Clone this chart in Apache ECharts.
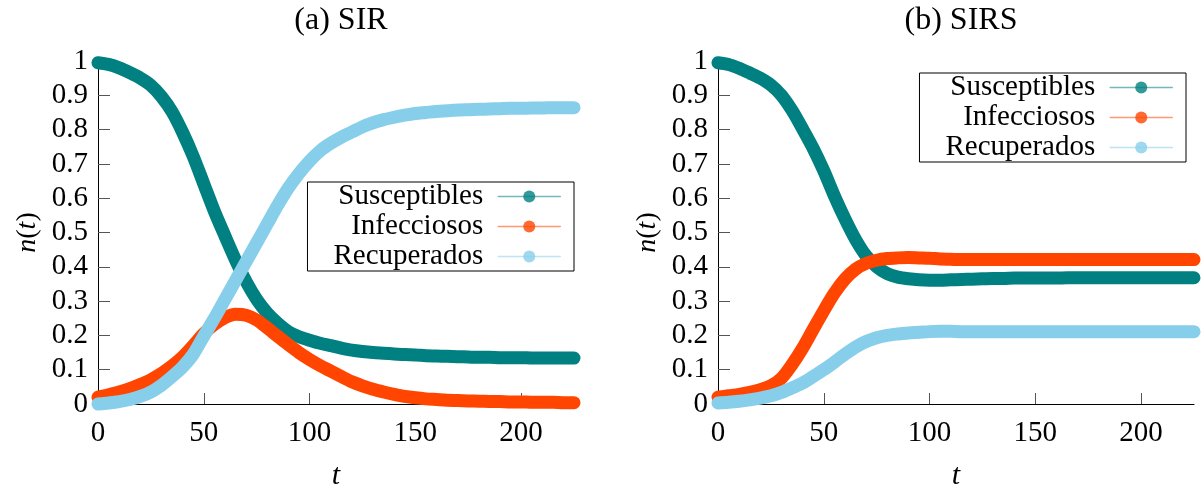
<!DOCTYPE html>
<html>
<head>
<meta charset="utf-8">
<title>SIR / SIRS</title>
<script src="https://cdn.jsdelivr.net/npm/echarts@6/dist/echarts.min.js"></script>
<style>
  html, body { margin: 0; padding: 0; background: #fff; }
  #chart { width: 1203px; height: 490px; }
</style>
</head>
<body>
<div id="chart"></div>
<script>
// Time samples (t) shared by both models
const tValues = [0, 5, 10, 15, 20, 25, 30, 35, 40, 45, 50, 55, 60, 65, 70, 75, 80, 85, 90, 95,
  100, 105, 110, 115, 120, 125, 130, 135, 140, 145, 150, 155, 160, 165, 170, 175, 180, 185, 190, 195,
  200, 205, 210, 215, 220, 225];

// (a) SIR model
const sirSusceptibles = [0.995, 0.99, 0.98, 0.966, 0.95, 0.929, 0.896, 0.852, 0.792, 0.722,
  0.642, 0.562, 0.49, 0.42, 0.357, 0.305, 0.265, 0.235, 0.211, 0.196,
  0.186, 0.177, 0.17, 0.163, 0.157, 0.153, 0.15, 0.148, 0.146, 0.144,
  0.143, 0.141, 0.14, 0.139, 0.138, 0.137, 0.136, 0.136, 0.135, 0.135,
  0.135, 0.134, 0.134, 0.134, 0.134, 0.134];
const sirInfecciosos = [0.02, 0.027, 0.035, 0.045, 0.057, 0.071, 0.089, 0.111, 0.137, 0.17,
  0.205, 0.232, 0.252, 0.262, 0.259, 0.245, 0.222, 0.197, 0.173, 0.15,
  0.13, 0.112, 0.096, 0.08, 0.065, 0.053, 0.043, 0.035, 0.028, 0.022,
  0.018, 0.015, 0.013, 0.011, 0.01, 0.009, 0.008, 0.0075, 0.007, 0.006,
  0.006, 0.005, 0.005, 0.005, 0.004, 0.004];
const sirRecuperados = [0.0, 0.003, 0.007, 0.013, 0.022, 0.035, 0.055, 0.08, 0.108, 0.145,
  0.198, 0.25, 0.305, 0.36, 0.415, 0.47, 0.525, 0.58, 0.63, 0.672,
  0.708, 0.738, 0.76, 0.778, 0.793, 0.808, 0.82, 0.829, 0.836, 0.842,
  0.847, 0.85, 0.853, 0.855, 0.857, 0.858, 0.859, 0.86, 0.861, 0.862,
  0.862, 0.863, 0.863, 0.864, 0.864, 0.864];

// (b) SIRS model
const sirsSusceptibles = [0.995, 0.99, 0.979, 0.965, 0.95, 0.93, 0.9, 0.856, 0.802, 0.745,
  0.68, 0.607, 0.54, 0.48, 0.432, 0.4, 0.38, 0.37, 0.365, 0.362,
  0.361, 0.361, 0.362, 0.363, 0.364, 0.365, 0.366, 0.366, 0.367, 0.367,
  0.367, 0.367, 0.367, 0.368, 0.368, 0.368, 0.368, 0.368, 0.368, 0.368,
  0.368, 0.368, 0.368, 0.368, 0.368, 0.368];
const sirsInfecciosos = [0.02, 0.024, 0.028, 0.034, 0.042, 0.053, 0.075, 0.115, 0.163, 0.218,
  0.272, 0.323, 0.364, 0.393, 0.41, 0.419, 0.424, 0.426, 0.427, 0.426,
  0.425, 0.423, 0.422, 0.421, 0.421, 0.421, 0.421, 0.421, 0.421, 0.421,
  0.421, 0.421, 0.421, 0.421, 0.421, 0.421, 0.421, 0.421, 0.421, 0.421,
  0.421, 0.421, 0.421, 0.421, 0.421, 0.421];
const sirsRecuperados = [0.003, 0.005, 0.008, 0.012, 0.017, 0.024, 0.034, 0.047, 0.061, 0.08,
  0.1, 0.122, 0.145, 0.166, 0.182, 0.193, 0.2, 0.204, 0.207, 0.209,
  0.211, 0.212, 0.212, 0.211, 0.211, 0.211, 0.211, 0.211, 0.211, 0.211,
  0.211, 0.211, 0.211, 0.211, 0.211, 0.211, 0.211, 0.211, 0.211, 0.211,
  0.211, 0.211, 0.211, 0.211, 0.211, 0.211];

const seriesNames = ['Susceptibles', 'Infecciosos', 'Recuperados'];
const seriesColors = ['#008080', '#ff4500', '#87ceeb'];
const panelTitles = ['(a) SIR', '(b) SIRS'];
const xTickValues = [0, 50, 100, 150, 200];
const yTickValues = [0, 0.1, 0.2, 0.3, 0.4, 0.5, 0.6, 0.7, 0.8, 0.9, 1];

const FONT = '"Liberation Serif", "DejaVu Serif", serif';
const panels = [
  { left: 98, data: [sirSusceptibles, sirInfecciosos, sirRecuperados] },
  { left: 718, data: [sirsSusceptibles, sirsInfecciosos, sirsRecuperados] }
];
const GRID_W = 476, GRID_TOP = 61, GRID_H = 343;

const grids = [], xAxes = [], yAxes = [], series = [], titles = [], legends = [];
panels.forEach((p, k) => {
  grids.push({
    left: p.left, top: GRID_TOP, width: GRID_W, height: GRID_H,
    outerBoundsMode: 'none', containLabel: false
  });
  titles.push({
    text: panelTitles[k], left: p.left + GRID_W / 2, top: 0, textAlign: 'center',
    textStyle: { fontFamily: FONT, fontSize: 32, fontWeight: 'normal', color: '#000' }
  });
  xAxes.push({
    type: 'value', gridIndex: k, min: 0, max: 225,
    name: 't', nameLocation: 'middle', nameGap: 57,
    nameTextStyle: { fontFamily: FONT, fontSize: 30, fontStyle: 'italic', color: '#000' },
    axisLine: { lineStyle: { color: '#000', width: 1 } },
    axisTick: { inside: true, length: 11, customValues: xTickValues, lineStyle: { color: '#555' } },
    axisLabel: { customValues: xTickValues, margin: 15, fontFamily: FONT, fontSize: 29, color: '#000' },
    splitLine: { show: false }
  });
  yAxes.push({
    type: 'value', gridIndex: k, min: 0, max: 1, interval: 0.1,
    name: '{i|n}{r|(}{i|t}{r|)}', nameLocation: 'middle', nameGap: 56, nameRotate: 90,
    nameTextStyle: {
      fontFamily: FONT, fontSize: 28, color: '#000',
      rich: {
        i: { fontFamily: FONT, fontSize: 28, fontStyle: 'italic', color: '#000' },
        r: { fontFamily: FONT, fontSize: 28, color: '#000' }
      }
    },
    axisLine: { show: true, lineStyle: { color: '#000', width: 1 } },
    axisTick: { show: true, inside: true, length: 12, customValues: yTickValues, lineStyle: { color: '#555' } },
    axisLabel: {
      customValues: yTickValues, margin: 10, padding: [4, 0, 0, 0],
      fontFamily: FONT, fontSize: 29, color: '#000'
    },
    splitLine: { show: false }
  });
  p.data.forEach((vals, j) => {
    series.push({
      name: seriesNames[j], type: 'line', xAxisIndex: k, yAxisIndex: k,
      data: tValues.map((t, i) => [t, vals[i]]),
      smooth: 0.3, clip: false,
      symbol: 'none', color: seriesColors[j],
      lineStyle: { width: 13, color: seriesColors[j], cap: 'round', join: 'round' },
      emphasis: { disabled: true }, z: 2 + j
    });
  });
});

legends.push({
  data: seriesNames, orient: 'vertical', align: 'right', right: 1203 - 574, top: 182
});
legends.push({
  data: seriesNames, orient: 'vertical', align: 'right', right: 1203 - 1186, top: 73
});
legends.forEach(l => Object.assign(l, {
  itemWidth: 62, itemHeight: 15, itemGap: 1,
  padding: [0, 13, 0, 26], borderColor: '#000', borderWidth: 1, backgroundColor: '#fff',
  selectedMode: false,
  textStyle: { fontFamily: FONT, fontSize: 29, lineHeight: 28, color: '#000', padding: [0, 10, 0, 0] },
  lineStyle: { width: 1.5, opacity: 0.55 },
  itemStyle: { opacity: 0.8 }
}));

const chart = echarts.init(document.getElementById('chart'), null, { renderer: 'canvas' });
chart.setOption({
  animation: false,
  backgroundColor: '#fff',
  title: titles, grid: grids, xAxis: xAxes, yAxis: yAxes, legend: legends, series: series
});
</script>
</body>
</html>
